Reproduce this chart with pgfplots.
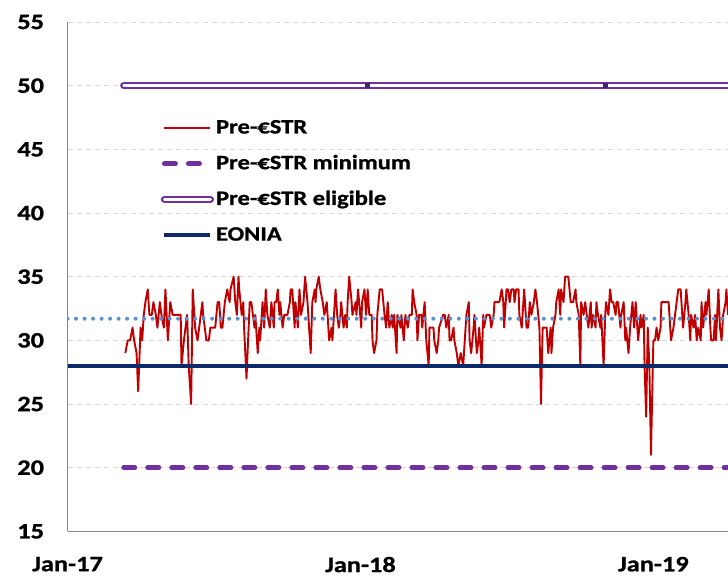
\documentclass[border=0pt]{standalone}
\usepackage{fontspec}
\setmainfont{Carlito}[FakeStretch=1.2, BoldFeatures={FakeBold=1}]
\usepackage{pgfplots}
\usepackage{pgfplotstable}
\pgfplotsset{compat=1.18}
\definecolor{redline}{HTML}{C00000}
\definecolor{purp}{HTML}{7030A0}
\definecolor{darkpurp}{HTML}{4B1F70}
\definecolor{navy}{HTML}{0C2A6A}
\definecolor{dotblue}{HTML}{5B8FD0}
\definecolor{gridgray}{HTML}{D9D9D9}
\definecolor{axisgray}{HTML}{868686}
\newcommand\tickfont{\fontsize{22}{26}\selectfont\bfseries}
\newcommand\legfont{\fontsize{20.5}{24}\selectfont\bfseries}

% day number counted from 1 Jan 2017, value
\pgfplotstableread{
x y
72 29
75 30
78 30
81 31
83 30
86 29
88 26
91 31
93 30
95 32
97 33
100 34
102 32
105 32
107 33
110 32
112 31
115 33
117 32
120 31
122 34
125 30
126 31
128 33
131 32
133 32
136 32
138 32
141 32
142 28
145 30
147 31
149 32
151 28
154 25
156 34
157 33
159 31
162 30
164 31
168 33
169 32
173 30
176 30
178 31
182 31
184 31
187 33
189 33
191 31
193 31
196 33
199 34
202 33
203 34
207 35
209 33
211 32
213 35
214 34
217 32
219 33
220 31
223 27
227 33
229 33
233 31
234 32
237 29
239 31
240 30
243 33
245 31
247 34
249 32
252 31
254 33
257 31
258 33
260 33
262 34
264 32
265 33
268 31
270 32
274 32
277 33
278 34
280 34
283 31
284 33
287 31
289 34
291 32
294 33
296 35
299 33
301 31
303 29
305 33
308 34
309 33
310 34
313 35
315 34
318 33
320 32
323 33
326 30
329 31
330 30
334 34
336 32
338 31
340 32
341 33
344 31
346 32
348 31
349 33
351 35
354 33
355 32
359 33
360 32
362 34
366 31
367 33
370 34
372 32
374 34
376 32
379 32
380 30
382 29
385 30
386 32
389 34
392 34
395 32
397 31
399 33
401 31
404 32
405 31
407 32
410 29
411 32
415 31
416 32
419 30
421 32
424 31
426 32
429 32
430 34
432 33
435 32
436 30
438 32
441 32
442 31
445 33
447 30
450 28
451 31
456 31
457 30
460 29
462 30
463 31
468 32
470 32
472 31
475 32
476 30
478 30
481 31
482 30
485 29
487 28
490 29
493 28
495 30
497 32
500 33
501 30
503 29
506 31
507 32
510 29
512 30
513 31
516 28
518 32
519 31
522 32
526 32
528 31
531 32
532 33
534 33
538 33
541 34
543 33
544 31
547 34
549 34
551 33
553 34
556 34
557 33
559 34
562 34
563 32
566 31
568 33
569 34
572 31
574 31
576 33
578 32
581 33
583 34
585 33
588 31
590 25
592 31
595 31
597 31
599 29
602 31
603 29
605 31
608 32
609 33
612 34
614 32
615 34
618 33
620 35
622 35
624 35
627 33
630 33
633 34
634 33
637 32
639 28
640 33
643 32
645 33
647 32
649 31
652 33
653 31
655 32
658 31
659 33
661 32
664 31
665 32
668 28
670 32
671 33
674 32
676 34
678 33
680 33
683 32
684 33
686 33
689 31
690 32
693 33
695 30
696 31
699 29
701 31
704 33
706 31
708 33
709 32
711 30
714 32
715 31
718 32
719 28
721 24
723 31
725 28
727 21
730 30
732 30
734 31
736 30
739 31
740 33
742 33
746 33
749 33
751 31
752 30
755 31
757 32
759 33
761 34
764 34
765 33
767 31
770 33
771 34
774 32
776 30
777 32
780 31
782 32
784 30
786 31
789 30
790 33
792 31
795 33
796 32
799 34
801 31
802 30
805 30
807 32
808 30
811 34
813 31
815 30
817 32
820 33
821 34
823 32
}\prestr

\begin{document}
\begin{tikzpicture}
\begin{axis}[
  name=ax, at={(0,0)}, anchor=south west,
  scale only axis, width=660bp, height=509bp,
  xmin=0, xmax=823, ymin=15, ymax=55,
  ytick={15,20,...,55},
  xtick={0,365,730}, xticklabels={Jan-17,Jan-18,Jan-19},
  axis x line*=bottom, axis y line*=left,
  axis line style={draw=axisgray, line width=1bp},
  major tick length=0pt,
  ymajorgrids, grid style={dash pattern=on 5bp off 4bp, draw=gridgray, line width=0.8bp},
  /pgf/number format/assume math mode=true,
  yticklabel style={font=\tickfont, xshift=-20bp},
  xticklabel style={font=\tickfont, yshift=-22bp},
  legend style={draw=none, fill=none, at={(axis cs:116,47.6)}, anchor=north west,
    font=\legfont, row sep=12.7bp, inner sep=0pt,
    nodes={inner sep=2bp, text height=15bp, text depth=4bp}},
  legend cell align=left,
  legend image code/.code={\draw[#1] (0bp,0bp) -- (46bp,0bp);},
]
\addplot[redline, line width=1.9bp, line join=round] table[x=x,y=y] {\prestr};
\addlegendentry{Pre-€STR}
\addplot[purp, line width=5bp, line cap=round, dash pattern=on 11bp off 13bp] coordinates {(70,20) (823,20)};
\addlegendentry{Pre-€STR minimum}
\addplot[purp, line width=2.2bp, double=white, double distance=2.8bp, line cap=round] coordinates {(70,50) (823,50)};
\addlegendentry{Pre-€STR eligible}
\addplot[navy, line width=3.5bp] coordinates {(0,28) (823,28)};
\addlegendentry{EONIA}
\addplot[dotblue, line width=4bp, line cap=round, dash pattern=on 0bp off 8.5bp, forget plot] coordinates {(0,31.7) (823,31.7)};
\addplot[only marks, mark=square*, mark size=2bp, mark options={fill=darkpurp, draw=darkpurp}, forget plot] coordinates {(374,50) (670,50)};
\end{axis}
\pgfresetboundingbox
\path[use as bounding box] ([xshift=-67.5bp,yshift=-46bp]ax.south west) rectangle ([yshift=22bp]ax.north east);
\end{tikzpicture}
\end{document}
